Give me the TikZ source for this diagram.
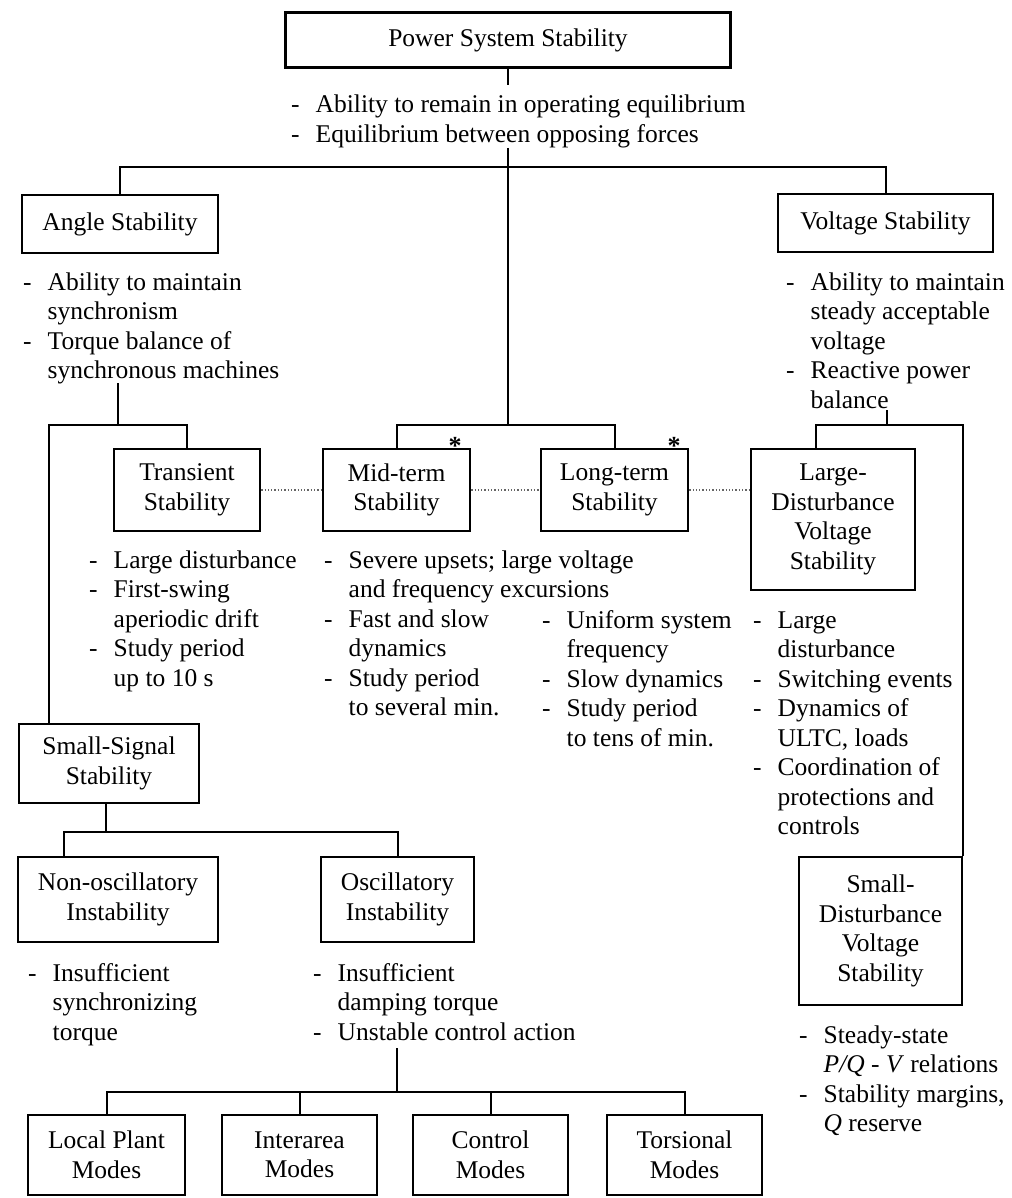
\documentclass[tikz,border=0pt]{standalone}
\usepackage{fontspec}
\setmainfont{Liberation Serif}

\newcommand{\bul}[1]{\begin{tabular}[t]{@{}l@{\hspace{16pt}}l@{}}#1\end{tabular}}

\begin{document}
\begin{tikzpicture}[
    x=1pt, y=-1pt,
    font=\fontsize{25.5}{29.5}\selectfont,
    box/.style={draw, line width=2.4pt, align=center, inner sep=0pt},
    note/.style={anchor=base west, inner sep=0pt},
    link/.style={line width=2pt},
    dots/.style={dotted, line width=1.3pt, black!60},
    mark star/.style={inner sep=0pt, font=\fontsize{26}{26}\selectfont\bfseries}
  ]
  \useasboundingbox (0,0) rectangle (1011,1198);

  \node[box, minimum width=445pt, minimum height=55pt] (pss) at (508,40) {Power System Stability};
  \node[note] (pssnote) at (291,113) {\bul{- & Ability to remain in operating equilibrium\\
    - & Equilibrium between opposing forces}};

  \node[box, minimum width=196pt, minimum height=58pt] (angle) at (120,224) {Angle Stability};
  \node[box, minimum width=215pt, minimum height=58pt] (volt) at (885.5,223) {Voltage Stability};
  \node[note] (anglenote) at (23,290) {\bul{- & Ability to maintain\\ & synchronism\\
    - & Torque balance of\\ & synchronous machines}};
  \node[note] (voltnote) at (786,290) {\bul{- & Ability to maintain\\ & steady acceptable\\ & voltage\\
    - & Reactive power\\ & balance}};

  \node[box, minimum width=146pt, minimum height=82pt] (trans) at (187,490) {Transient\\Stability};
  \node[box, minimum width=147pt, minimum height=82pt] (mid) at (396.5,490) {Mid-term\\Stability};
  \node[box, minimum width=147pt, minimum height=82pt] (long) at (614.5,490) {Long-term\\Stability};
  \node[box, minimum width=164pt, minimum height=141pt] (ldvs) at (833,519.5) {Large-\\Disturbance\\Voltage\\Stability};
  \node[mark star] (midstar) at (455,446) {*};
  \node[mark star] (longstar) at (674,446) {*};

  \node[note] (transnote) at (89,568) {\bul{- & Large disturbance\\ - & First-swing\\ & aperiodic drift\\
    - & Study period\\ & up to 10 s}};
  \node[note] (midnote) at (324,568) {\bul{- & Severe upsets; large voltage\\ & and frequency excursions\\
    - & Fast and slow\\ & dynamics\\ - & Study period\\ & to several min.}};
  \node[note] (longnote) at (542,628) {\bul{- & Uniform system\\ & frequency\\ - & Slow dynamics\\
    - & Study period\\ & to tens of min.}};
  \node[note] (ldvsnote) at (753,628) {\bul{- & Large\\ & disturbance\\ - & Switching events\\
    - & Dynamics of\\ & ULTC, loads\\ - & Coordination of\\ & protections and\\ & controls}};

  \node[box, minimum width=180pt, minimum height=79pt] (small) at (109,763.5) {Small-Signal\\Stability};
  \node[box, minimum width=200pt, minimum height=85pt] (nonosc) at (118,899.5) {Non-oscillatory\\Instability};
  \node[box, minimum width=153pt, minimum height=85pt] (osc) at (397.5,899.5) {Oscillatory\\Instability};
  \node[box, minimum width=163pt, minimum height=148pt] (sdvs) at (880.5,931) {Small-\\Disturbance\\Voltage\\Stability};

  \node[note] (nonoscnote) at (28,981) {\bul{- & Insufficient\\ & synchronizing\\ & torque}};
  \node[note] (oscnote) at (313,981) {\bul{- & Insufficient\\ & damping torque\\ - & Unstable control action}};
  \node[note] (sdvsnote) at (799,1043) {\bul{- & Steady-state\\ & \textit{P/Q} - \textit{V} relations\\
    - & Stability margins,\\ & \textit{Q} reserve}};

  \node[box, minimum width=157pt, minimum height=80pt] (local) at (106.5,1155) {Local Plant\\Modes};
  \node[box, minimum width=155pt, minimum height=80pt] (inter) at (299.5,1155) {Interarea\\Modes};
  \node[box, minimum width=155pt, minimum height=80pt] (ctrl) at (490.5,1155) {Control\\Modes};
  \node[box, minimum width=155pt, minimum height=80pt] (tors) at (684.5,1155) {Torsional\\Modes};

  \coordinate (pssend) at (508,85);
  \coordinate (trunk) at (508,148);
  \coordinate (bus1) at (508,167);
  \coordinate (bus2) at (508,425);
  \coordinate (angleend) at (118,383);
  \coordinate (abus) at (118,425);
  \coordinate (voltend) at (887,410);
  \coordinate (vbus) at (887,425);
  \coordinate (sbus) at (106,832);
  \coordinate (oscend) at (397,1048);
  \coordinate (mbus) at (397,1092);

  \draw[link] (pss.south) -- (pssend);
  \draw[link] (trunk) -- (bus2);
  \draw[link] (angle.north) |- (bus1) -| (volt.north);
  \draw[link] (mid.north) |- (bus2) -| (long.north);

  \draw[link] (angleend) -- (abus);
  \draw[link] (trans.north) |- (abus) -| ([xshift=31pt]small.north west);
  \draw[link] (voltend) -- (vbus);
  \draw[link] ([xshift=66pt]ldvs.north west) |- (vbus) -| (sdvs.north east);

  \draw[dots] (trans.east) -- (mid.west);
  \draw[dots] (mid.east) -- (long.west);
  \draw[dots] (long.east) -- (long.east -| ldvs.west);

  \draw[link] ([xshift=-3pt]small.south) -- (sbus);
  \draw[link] ([xshift=47pt]nonosc.north west) |- (sbus) -| (osc.north);

  \draw[link] (oscend) -- (mbus);
  \draw[link] (local.north) |- (mbus) -| (tors.north);
  \draw[link] (inter.north) -- (inter.north |- mbus);
  \draw[link] (ctrl.north) -- (ctrl.north |- mbus);
\end{tikzpicture}
\end{document}
